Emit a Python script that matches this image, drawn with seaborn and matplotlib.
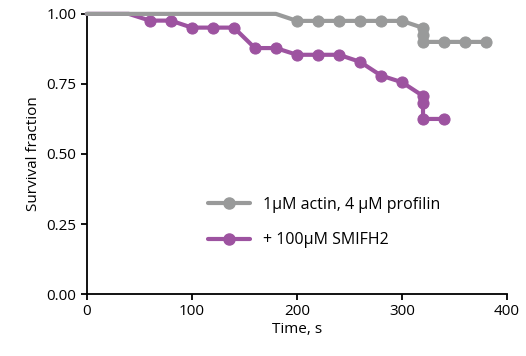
import seaborn as sns
import matplotlib.pyplot as plt
import pandas as pd
from matplotlib.lines import Line2D

# survival curves
time_ctrl = [0, 180, 200, 220, 240, 260, 280, 300, 320, 320, 320, 340, 360, 380]
surv_ctrl = [1.0, 1.0, 0.975, 0.975, 0.975, 0.975, 0.975, 0.975, 0.95, 0.925, 0.9, 0.9, 0.9, 0.9]

time_smifh2 = [0, 40, 60, 80, 100, 120, 140, 160, 180, 200, 220, 240, 260, 280, 300, 320, 320, 320, 340]
surv_smifh2 = [1.0, 1.0, 0.976, 0.976, 0.951, 0.951, 0.951, 0.878, 0.878, 0.854, 0.854, 0.854,
               0.829, 0.780, 0.756, 0.707, 0.683, 0.625, 0.625]

labels = ["1\u03bcM actin, 4 \u03bcM profilin", "+ 100\u03bcM SMIFH2"]
colors = ["#999a9a", "#9d53a0"]

df1 = pd.DataFrame({"t": time_ctrl, "s": surv_ctrl})
df2 = pd.DataFrame({"t": time_smifh2, "s": surv_smifh2})

sns.set_theme(style="ticks", rc={"text.color": "black", "axes.labelcolor": "black",
                                 "xtick.color": "black", "ytick.color": "black"})
plt.rcParams["font.family"] = ["Open Sans", "DejaVu Sans"]

fig, ax = plt.subplots(figsize=(5.26, 3.56), dpi=100)
fig.subplots_adjust(left=0.165, right=0.964, top=0.961, bottom=0.174)

sns.lineplot(data=df2, x="t", y="s", estimator=None, sort=False, ax=ax,
             color=colors[1], lw=3, marker="o", ms=8, mec=colors[1],
             markevery=list(range(2, len(time_smifh2))), clip_on=False, zorder=3)
sns.lineplot(data=df1, x="t", y="s", estimator=None, sort=False, ax=ax,
             color=colors[0], lw=3, marker="o", ms=8, mec=colors[0],
             markevery=list(range(2, len(time_ctrl))), clip_on=False, zorder=4)

ax.set_xlim(0, 400)
ax.set_ylim(0, 1.0)
ax.set_xticks([0, 100, 200, 300, 400])
ax.set_yticks([0, 0.25, 0.5, 0.75, 1.0])
ax.set_yticklabels(["0.00", "0.25", "0.50", "0.75", "1.00"])
ax.set_xlabel("Time, s", fontsize=11, labelpad=2)
ax.set_ylabel("Survival fraction", fontsize=11)
ax.tick_params(labelsize=11, width=1.3, length=4, color="black")
for sp in ["left", "bottom"]:
    ax.spines[sp].set_linewidth(1.3)
    ax.spines[sp].set_color("black")
sns.despine(ax=ax)

# legend with marker in the middle of each line
handles = [Line2D([0, 1, 2], [0, 0, 0], color=c, lw=3, marker="o", ms=8, markevery=[1])
           for c in colors]
ax.legend(handles, labels, loc="center left", bbox_to_anchor=(0.255, 0.255), frameon=False,
          fontsize=11.5, handlelength=2.6, labelspacing=1.2, handletextpad=0.8)

plt.savefig("out.png", dpi=100)
